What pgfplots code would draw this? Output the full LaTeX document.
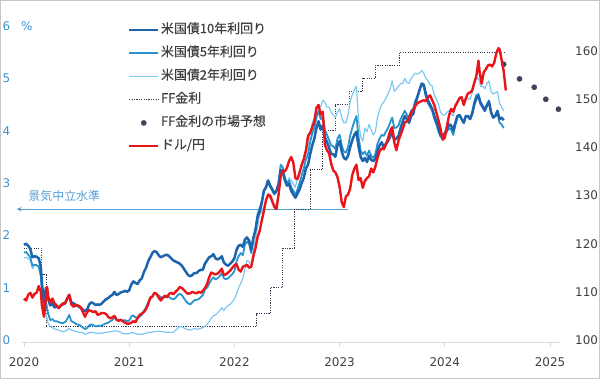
\documentclass[border=0pt]{standalone}
\usepackage{pgfplots}
\pgfplotsset{compat=1.18}
\usepackage{pgfplotstable}
\usetikzlibrary{arrows.meta}
\usepackage{fontspec}
\setmainfont{DejaVu Sans}
\newfontfamily\jp{Noto Sans CJK JP}
\newfontfamily\jpb[FakeBold=0.35]{Noto Sans CJK JP}

\definecolor{c10}{RGB}{28,100,172}
\definecolor{c5}{RGB}{40,148,205}
\definecolor{c2}{RGB}{125,200,240}
\definecolor{cred}{RGB}{235,20,25}
\definecolor{cff}{RGB}{55,55,80}
\definecolor{cdot}{RGB}{65,65,90}
\definecolor{cleft}{RGB}{60,145,205}
\definecolor{cneutral}{RGB}{85,160,215}
\definecolor{ctext}{RGB}{64,64,64}
\definecolor{caxis}{RGB}{217,217,217}

\pgfplotstableread{
x y
2020.00 1.82
2020.02 1.84
2020.04 1.80
2020.06 1.74
2020.08 1.58
2020.10 1.60
2020.12 1.59
2020.14 1.56
2020.16 1.40
2020.17 1.10
2020.19 0.72
2020.20 0.90
2020.21 1.00
2020.23 0.78
2020.25 0.66
2020.27 0.70
2020.29 0.62
2020.31 0.64
2020.33 0.62
2020.35 0.66
2020.37 0.68
2020.39 0.70
2020.41 0.78
2020.43 0.86
2020.45 0.72
2020.47 0.70
2020.50 0.66
2020.52 0.64
2020.54 0.61
2020.56 0.58
2020.58 0.55
2020.60 0.58
2020.62 0.68
2020.64 0.72
2020.66 0.70
2020.68 0.67
2020.70 0.68
2020.72 0.67
2020.74 0.70
2020.76 0.74
2020.78 0.78
2020.80 0.80
2020.82 0.84
2020.84 0.86
2020.86 0.92
2020.88 0.86
2020.90 0.88
2020.92 0.91
2020.94 0.92
2020.96 0.94
2020.98 0.92
2021.00 0.95
2021.02 1.06
2021.04 1.12
2021.06 1.09
2021.08 1.07
2021.10 1.14
2021.12 1.18
2021.14 1.30
2021.16 1.38
2021.18 1.50
2021.20 1.58
2021.22 1.66
2021.24 1.70
2021.26 1.68
2021.28 1.62
2021.30 1.58
2021.32 1.60
2021.34 1.62
2021.36 1.63
2021.38 1.60
2021.40 1.56
2021.42 1.52
2021.44 1.50
2021.46 1.48
2021.48 1.46
2021.50 1.42
2021.52 1.36
2021.54 1.30
2021.56 1.24
2021.58 1.22
2021.60 1.24
2021.62 1.28
2021.64 1.28
2021.66 1.32
2021.68 1.34
2021.70 1.34
2021.72 1.46
2021.74 1.52
2021.76 1.58
2021.78 1.60
2021.80 1.64
2021.82 1.56
2021.84 1.54
2021.86 1.56
2021.88 1.60
2021.90 1.48
2021.92 1.44
2021.94 1.42
2021.96 1.46
2021.98 1.50
2022.00 1.56
2022.02 1.72
2022.04 1.80
2022.06 1.82
2022.08 1.78
2022.10 1.92
2022.12 1.96
2022.14 1.90
2022.16 1.72
2022.18 1.95
2022.20 2.10
2022.22 2.35
2022.24 2.45
2022.26 2.62
2022.28 2.85
2022.30 2.92
2022.32 3.05
2022.34 2.95
2022.36 2.88
2022.38 2.80
2022.40 2.85
2022.42 2.98
2022.44 3.25
2022.46 3.22
2022.48 3.05
2022.50 2.95
2022.52 2.98
2022.54 2.85
2022.56 2.78
2022.58 2.72
2022.60 2.80
2022.62 2.88
2022.64 3.00
2022.66 3.10
2022.68 3.28
2022.70 3.35
2022.72 3.55
2022.74 3.72
2022.76 3.85
2022.78 4.05
2022.80 4.18
2022.82 4.02
2022.84 4.10
2022.86 3.88
2022.88 3.78
2022.90 3.68
2022.92 3.55
2022.94 3.55
2022.96 3.50
2022.98 3.72
2023.00 3.80
2023.02 3.60
2023.04 3.48
2023.06 3.45
2023.08 3.52
2023.10 3.68
2023.12 3.82
2023.14 3.92
2023.16 3.98
2023.18 3.70
2023.20 3.50
2023.22 3.42
2023.24 3.48
2023.26 3.40
2023.28 3.52
2023.30 3.44
2023.32 3.42
2023.34 3.46
2023.36 3.62
2023.38 3.72
2023.40 3.78
2023.42 3.68
2023.44 3.75
2023.46 3.80
2023.48 3.88
2023.50 3.98
2023.52 3.82
2023.54 3.85
2023.56 3.90
2023.58 4.05
2023.60 4.18
2023.62 4.28
2023.64 4.22
2023.66 4.15
2023.68 4.28
2023.70 4.32
2023.72 4.50
2023.74 4.65
2023.76 4.78
2023.78 4.90
2023.80 4.88
2023.82 4.70
2023.84 4.58
2023.86 4.50
2023.88 4.42
2023.90 4.28
2023.92 4.18
2023.94 4.05
2023.96 3.92
2023.98 3.88
2024.00 3.95
2024.02 4.02
2024.04 4.12
2024.06 4.10
2024.08 4.00
2024.10 4.15
2024.12 4.28
2024.14 4.30
2024.16 4.22
2024.18 4.15
2024.20 4.28
2024.22 4.28
2024.24 4.22
2024.26 4.32
2024.28 4.50
2024.30 4.62
2024.32 4.66
2024.34 4.52
2024.36 4.45
2024.38 4.38
2024.40 4.48
2024.42 4.55
2024.44 4.35
2024.46 4.25
2024.48 4.28
2024.50 4.38
2024.52 4.22
2024.54 4.25
2024.56 4.20
}\tenY

\pgfplotstableread{
x y
2020.00 1.67
2020.02 1.68
2020.04 1.63
2020.06 1.58
2020.08 1.42
2020.10 1.44
2020.12 1.43
2020.14 1.40
2020.16 1.22
2020.17 0.90
2020.19 0.55
2020.20 0.70
2020.21 0.72
2020.23 0.50
2020.25 0.38
2020.27 0.40
2020.29 0.36
2020.31 0.36
2020.33 0.34
2020.35 0.33
2020.37 0.32
2020.39 0.34
2020.41 0.40
2020.43 0.48
2020.45 0.36
2020.47 0.34
2020.50 0.30
2020.52 0.29
2020.54 0.27
2020.56 0.24
2020.58 0.21
2020.60 0.23
2020.62 0.28
2020.64 0.30
2020.66 0.28
2020.68 0.26
2020.70 0.27
2020.72 0.27
2020.74 0.28
2020.76 0.30
2020.78 0.32
2020.80 0.33
2020.82 0.36
2020.84 0.38
2020.86 0.44
2020.88 0.38
2020.90 0.38
2020.92 0.38
2020.94 0.37
2020.96 0.38
2020.98 0.36
2021.00 0.37
2021.02 0.45
2021.04 0.47
2021.06 0.43
2021.08 0.42
2021.10 0.45
2021.12 0.48
2021.14 0.56
2021.16 0.62
2021.18 0.72
2021.20 0.78
2021.22 0.84
2021.24 0.90
2021.26 0.88
2021.28 0.85
2021.30 0.82
2021.32 0.80
2021.34 0.82
2021.36 0.84
2021.38 0.82
2021.40 0.79
2021.42 0.78
2021.44 0.80
2021.46 0.86
2021.48 0.88
2021.50 0.86
2021.52 0.80
2021.54 0.74
2021.56 0.70
2021.58 0.68
2021.60 0.72
2021.62 0.76
2021.64 0.77
2021.66 0.78
2021.68 0.82
2021.70 0.86
2021.72 0.96
2021.74 1.00
2021.76 1.08
2021.78 1.15
2021.80 1.20
2021.82 1.16
2021.84 1.18
2021.86 1.22
2021.88 1.28
2021.90 1.18
2021.92 1.16
2021.94 1.18
2021.96 1.22
2021.98 1.26
2022.00 1.32
2022.02 1.50
2022.04 1.60
2022.06 1.66
2022.08 1.62
2022.10 1.82
2022.12 1.88
2022.14 1.84
2022.16 1.66
2022.18 1.95
2022.20 2.12
2022.22 2.40
2022.24 2.52
2022.26 2.65
2022.28 2.85
2022.30 2.90
2022.32 3.02
2022.34 2.92
2022.36 2.86
2022.38 2.78
2022.40 2.85
2022.42 3.00
2022.44 3.35
2022.46 3.30
2022.48 3.10
2022.50 3.00
2022.52 3.05
2022.54 2.92
2022.56 2.85
2022.58 2.78
2022.60 2.88
2022.62 3.00
2022.64 3.15
2022.66 3.28
2022.68 3.45
2022.70 3.55
2022.72 3.78
2022.74 3.95
2022.76 4.05
2022.78 4.25
2022.80 4.38
2022.82 4.22
2022.84 4.28
2022.86 4.02
2022.88 3.92
2022.90 3.82
2022.92 3.72
2022.94 3.70
2022.96 3.65
2022.98 3.85
2023.00 3.92
2023.02 3.72
2023.04 3.60
2023.06 3.58
2023.08 3.68
2023.10 3.90
2023.12 4.05
2023.14 4.18
2023.16 4.28
2023.18 3.88
2023.20 3.62
2023.22 3.55
2023.24 3.60
2023.26 3.52
2023.28 3.62
2023.30 3.52
2023.32 3.48
2023.34 3.55
2023.36 3.75
2023.38 3.85
2023.40 3.92
2023.42 3.90
2023.44 3.98
2023.46 4.05
2023.48 4.15
2023.50 4.25
2023.52 4.05
2023.54 4.06
2023.56 4.10
2023.58 4.22
2023.60 4.30
2023.62 4.38
2023.64 4.30
2023.66 4.25
2023.68 4.38
2023.70 4.42
2023.72 4.58
2023.74 4.65
2023.76 4.78
2023.78 4.88
2023.80 4.84
2023.82 4.65
2023.84 4.52
2023.86 4.45
2023.88 4.38
2023.90 4.22
2023.92 4.12
2023.94 3.98
2023.96 3.88
2023.98 3.85
2024.00 3.92
2024.02 3.98
2024.04 4.05
2024.06 4.02
2024.08 3.92
2024.10 4.10
2024.12 4.25
2024.14 4.30
2024.16 4.22
2024.18 4.15
2024.20 4.28
2024.22 4.28
2024.24 4.22
2024.26 4.35
2024.28 4.55
2024.30 4.68
2024.32 4.70
2024.34 4.55
2024.36 4.48
2024.38 4.42
2024.40 4.50
2024.42 4.58
2024.44 4.35
2024.46 4.25
2024.48 4.28
2024.50 4.35
2024.52 4.15
2024.54 4.12
2024.56 4.05
}\fiveY

\pgfplotstableread{
x y
2020.00 1.57
2020.02 1.58
2020.04 1.56
2020.06 1.52
2020.08 1.36
2020.10 1.42
2020.12 1.43
2020.14 1.41
2020.16 1.22
2020.17 0.90
2020.19 0.50
2020.20 0.55
2020.21 0.48
2020.23 0.32
2020.25 0.25
2020.27 0.24
2020.29 0.21
2020.31 0.20
2020.33 0.19
2020.35 0.17
2020.37 0.16
2020.39 0.17
2020.41 0.19
2020.43 0.22
2020.45 0.19
2020.47 0.18
2020.50 0.16
2020.52 0.15
2020.54 0.15
2020.56 0.14
2020.58 0.11
2020.60 0.12
2020.62 0.14
2020.64 0.15
2020.66 0.14
2020.68 0.13
2020.70 0.13
2020.72 0.13
2020.74 0.13
2020.76 0.14
2020.78 0.15
2020.80 0.15
2020.82 0.16
2020.84 0.16
2020.86 0.18
2020.88 0.17
2020.90 0.16
2020.92 0.15
2020.94 0.12
2020.96 0.12
2020.98 0.12
2021.00 0.12
2021.02 0.14
2021.04 0.14
2021.06 0.12
2021.08 0.11
2021.10 0.11
2021.12 0.11
2021.14 0.12
2021.16 0.13
2021.18 0.14
2021.20 0.15
2021.22 0.15
2021.24 0.16
2021.26 0.16
2021.28 0.17
2021.30 0.16
2021.32 0.16
2021.34 0.15
2021.36 0.15
2021.38 0.15
2021.40 0.14
2021.42 0.15
2021.44 0.18
2021.46 0.22
2021.48 0.26
2021.50 0.25
2021.52 0.23
2021.54 0.21
2021.56 0.20
2021.58 0.19
2021.60 0.20
2021.62 0.22
2021.64 0.21
2021.66 0.21
2021.68 0.22
2021.70 0.24
2021.72 0.26
2021.74 0.30
2021.76 0.35
2021.78 0.42
2021.80 0.46
2021.82 0.48
2021.84 0.52
2021.86 0.56
2021.88 0.62
2021.90 0.56
2021.92 0.62
2021.94 0.66
2021.96 0.68
2021.98 0.73
2022.00 0.78
2022.02 0.88
2022.04 1.00
2022.06 1.08
2022.08 1.18
2022.10 1.35
2022.12 1.52
2022.14 1.50
2022.16 1.38
2022.18 1.70
2022.20 1.95
2022.22 2.15
2022.24 2.40
2022.26 2.45
2022.28 2.55
2022.30 2.65
2022.32 2.75
2022.34 2.70
2022.36 2.62
2022.38 2.55
2022.40 2.62
2022.42 2.80
2022.44 3.20
2022.46 3.15
2022.48 3.05
2022.50 2.95
2022.52 3.10
2022.54 3.05
2022.56 2.98
2022.58 2.92
2022.60 3.10
2022.62 3.25
2022.64 3.30
2022.66 3.42
2022.68 3.55
2022.70 3.72
2022.72 3.95
2022.74 4.15
2022.76 4.25
2022.78 4.42
2022.80 4.50
2022.82 4.45
2022.84 4.58
2022.86 4.55
2022.88 4.45
2022.90 4.45
2022.92 4.35
2022.94 4.30
2022.96 4.25
2022.98 4.35
2023.00 4.42
2023.02 4.25
2023.04 4.15
2023.06 4.15
2023.08 4.30
2023.10 4.55
2023.12 4.68
2023.14 4.78
2023.16 4.85
2023.18 4.20
2023.20 3.88
2023.22 3.80
2023.24 4.05
2023.26 3.98
2023.28 4.12
2023.30 4.02
2023.32 3.92
2023.34 3.98
2023.36 4.25
2023.38 4.40
2023.40 4.50
2023.42 4.55
2023.44 4.62
2023.46 4.70
2023.48 4.80
2023.50 4.95
2023.52 4.75
2023.54 4.80
2023.56 4.85
2023.58 4.90
2023.60 4.90
2023.62 5.00
2023.64 4.92
2023.66 4.90
2023.68 5.00
2023.70 5.05
2023.72 5.10
2023.74 5.08
2023.76 5.10
2023.78 5.15
2023.80 5.10
2023.82 5.00
2023.84 4.95
2023.86 4.88
2023.88 4.85
2023.90 4.68
2023.92 4.60
2023.94 4.50
2023.96 4.35
2023.98 4.30
2024.00 4.30
2024.02 4.35
2024.04 4.38
2024.06 4.32
2024.08 4.28
2024.10 4.45
2024.12 4.55
2024.14 4.65
2024.16 4.62
2024.18 4.55
2024.20 4.62
2024.22 4.62
2024.24 4.60
2024.26 4.72
2024.28 4.92
2024.30 5.00
2024.32 5.00
2024.34 4.85
2024.36 4.85
2024.38 4.80
2024.40 4.90
2024.42 4.95
2024.44 4.75
2024.46 4.70
2024.48 4.72
2024.50 4.75
2024.52 4.52
2024.54 4.45
2024.56 4.38
}\twoY

\pgfplotstableread{
x y
2020.00 1.75
2020.17 1.25
2020.21 0.25
2022.21 0.50
2022.34 1.00
2022.46 1.75
2022.57 2.50
2022.72 3.25
2022.84 4.00
2022.96 4.50
2023.09 4.75
2023.22 5.00
2023.34 5.25
2023.57 5.50
2024.56 5.50
}\ff

\pgfplotstableread{
x y
2024.56 5.27
2024.71 4.99
2024.85 4.83
2024.96 4.60
2025.08 4.41
}\ffexp

\pgfplotstableread{
x y
2020.00 108.6
2020.02 108.2
2020.04 109.4
2020.06 109.8
2020.08 108.8
2020.10 109.6
2020.12 109.8
2020.14 111.2
2020.16 110.0
2020.17 107.2
2020.19 104.8
2020.20 107.0
2020.22 111.0
2020.23 109.0
2020.25 107.8
2020.27 108.6
2020.29 107.6
2020.31 107.2
2020.33 106.6
2020.35 107.2
2020.37 107.6
2020.39 107.6
2020.41 108.6
2020.43 109.4
2020.45 107.4
2020.47 106.9
2020.50 107.3
2020.52 107.1
2020.54 106.8
2020.56 105.8
2020.58 104.8
2020.60 105.8
2020.62 106.2
2020.64 106.0
2020.66 105.8
2020.68 106.0
2020.70 105.2
2020.72 105.4
2020.74 105.6
2020.76 105.6
2020.78 105.4
2020.80 104.8
2020.82 104.5
2020.84 104.7
2020.86 105.0
2020.88 104.2
2020.90 104.0
2020.92 104.2
2020.94 103.9
2020.96 103.6
2020.98 103.4
2021.00 103.4
2021.02 103.6
2021.04 103.9
2021.06 103.7
2021.08 104.6
2021.10 105.2
2021.12 105.5
2021.14 105.8
2021.16 106.4
2021.18 107.4
2021.20 108.8
2021.22 109.0
2021.24 109.8
2021.26 109.6
2021.28 108.8
2021.30 108.2
2021.32 108.8
2021.34 109.2
2021.36 108.9
2021.38 109.6
2021.40 109.8
2021.42 109.5
2021.44 110.0
2021.46 110.4
2021.48 111.0
2021.50 110.8
2021.52 110.4
2021.54 109.9
2021.56 109.6
2021.58 109.7
2021.60 110.0
2021.62 109.8
2021.64 109.7
2021.66 110.0
2021.68 109.8
2021.70 110.2
2021.72 110.8
2021.74 111.6
2021.76 113.0
2021.78 114.0
2021.80 113.8
2021.82 113.6
2021.84 113.8
2021.86 114.2
2021.88 114.8
2021.90 113.5
2021.92 113.6
2021.94 114.0
2021.96 114.4
2021.98 115.0
2022.00 115.5
2022.02 115.8
2022.04 114.6
2022.06 114.2
2022.08 115.2
2022.10 115.4
2022.12 115.6
2022.14 115.0
2022.16 115.2
2022.18 117.4
2022.20 119.0
2022.22 121.4
2022.24 122.6
2022.26 124.8
2022.28 126.8
2022.30 129.0
2022.32 130.2
2022.34 130.0
2022.36 128.8
2022.38 127.6
2022.40 127.2
2022.42 130.2
2022.44 134.0
2022.46 135.2
2022.48 135.0
2022.50 135.8
2022.52 137.2
2022.54 138.0
2022.56 136.8
2022.58 133.6
2022.60 133.4
2022.62 134.8
2022.64 136.4
2022.66 137.6
2022.68 139.4
2022.70 142.4
2022.72 143.0
2022.74 144.2
2022.76 145.4
2022.78 148.2
2022.80 148.8
2022.82 146.8
2022.84 147.4
2022.86 140.6
2022.88 139.4
2022.90 138.8
2022.92 136.6
2022.94 135.2
2022.96 134.8
2022.98 133.8
2023.00 131.8
2023.02 128.6
2023.04 127.6
2023.06 129.8
2023.08 130.2
2023.10 131.4
2023.12 134.2
2023.14 135.6
2023.16 136.4
2023.18 133.2
2023.20 133.6
2023.22 131.6
2023.24 133.0
2023.26 133.6
2023.28 134.0
2023.30 135.6
2023.32 134.8
2023.34 136.0
2023.36 137.8
2023.38 139.2
2023.40 139.8
2023.42 139.6
2023.44 140.6
2023.46 141.8
2023.48 143.4
2023.50 144.2
2023.52 141.0
2023.54 139.4
2023.56 141.4
2023.58 142.6
2023.60 143.8
2023.62 145.2
2023.64 145.4
2023.66 146.2
2023.68 147.2
2023.70 147.8
2023.72 148.6
2023.74 149.2
2023.76 149.4
2023.78 149.6
2023.80 149.8
2023.82 149.6
2023.84 150.4
2023.86 150.8
2023.88 149.8
2023.90 148.8
2023.92 147.2
2023.94 145.6
2023.96 143.8
2023.98 141.6
2024.00 142.0
2024.02 144.4
2024.04 146.6
2024.06 148.0
2024.08 147.4
2024.10 148.6
2024.12 149.4
2024.14 150.2
2024.16 150.4
2024.18 148.8
2024.20 150.2
2024.22 151.2
2024.24 151.4
2024.26 151.8
2024.28 153.4
2024.30 154.8
2024.32 158.0
2024.33 155.8
2024.35 153.2
2024.37 155.6
2024.39 156.2
2024.41 157.0
2024.43 157.2
2024.45 156.8
2024.47 157.6
2024.49 159.6
2024.51 160.6
2024.52 160.4
2024.54 158.2
2024.56 155.8
2024.58 151.8
}\usdjpy

\begin{document}
\begin{tikzpicture}
\useasboundingbox (0,0) rectangle (600bp,379bp);
\draw[black!22, line width=1bp] (0.5bp,0.5bp) rectangle (599.5bp,378.5bp);
\begin{axis}[
  at={(22bp,39bp)}, anchor=south west,
  scale only axis, width=538bp, height=314bp,
  xmin=2019.981, xmax=2025.095, ymin=0, ymax=6,
  clip=false,
  axis x line*=bottom, axis y line*=left,
  x axis line style={draw=caxis, line width=0.8bp, -, yshift=-2.5bp},
  y axis line style={draw=none},
  xtick={2020,2021,2022,2023,2024,2025},
  xticklabels={2020,2021,2022,2023,2024,2025},
  xtick style={draw=caxis, line width=0.8bp, yshift=-2.5bp},
  tick align=outside, major tick length=4bp,
  ytick={0,1,2,3,4,5,6}, ytick style={draw=none},
  xticklabel style={font=\fontsize{12}{14}\selectfont, text=ctext, inner sep=0pt, anchor=north, yshift=-13bp},
  yticklabel style={font=\fontsize{12}{14}\selectfont, text=cleft, inner sep=0pt, anchor=east, xshift=-7.5bp},
  /pgf/number format/assume math mode=true,
  legend style={at={(rel axis cs:0.197,1.006)}, anchor=north west, draw=none, fill=none,
    font=\jpb\fontsize{13}{15}\selectfont, text=ctext, inner sep=0pt, outer sep=0pt,
    row sep=11.2bp, column sep=1.5bp,
    nodes={inner sep=0pt, text height=9bp, text depth=3bp}},
  legend cell align=left,
  legend image code/.code={\draw[#1] (0bp,0bp) -- (29bp,0bp);},
]
\addplot[cneutral, line width=0.8bp, -{Stealth[length=5bp,width=4.5bp]}, forget plot]
  coordinates {(2023.08,2.5) (2019.93,2.5)};
\node[anchor=west, inner sep=0pt, text=cneutral, font=\jp\fontsize{12}{14}\selectfont]
  at (axis cs:2020.04,2.76) {景気中立水準};
\node[anchor=west, inner sep=0pt, text=cleft, font=\fontsize{12}{14}\selectfont]
  at (rel axis cs:-0.002,1.0) {\%};
\addplot[cff, line width=1.1bp, dash pattern=on 1.1bp off 1.3bp, const plot, forget plot] table {\ff};
\addplot[c2, line width=1.2bp, line join=round, forget plot] table {\twoY};
\addplot[c5, line width=1.8bp, line join=round, forget plot] table {\fiveY};
\addplot[c10, line width=2.5bp, line join=round, forget plot] table {\tenY};
\addplot[only marks, mark=*, mark size=2.6bp, cdot, forget plot] table {\ffexp};
\addlegendimage{c10, line width=2.5bp}
\addlegendentry{米国債10年利回り}
\addlegendimage{c5, line width=1.8bp}
\addlegendentry{米国債5年利回り}
\addlegendimage{c2, line width=1.2bp}
\addlegendentry{米国債2年利回り}
\addlegendimage{cff, line width=1.1bp, dash pattern=on 1.1bp off 1.3bp}
\addlegendentry{FF金利}
\addlegendimage{legend image code/.code={\fill[cdot] (14.5bp,0bp) circle (2.6bp);}}
\addlegendentry{FF金利の市場予想}
\addlegendimage{cred, line width=2.5bp}
\addlegendentry{ドル/円}
\end{axis}
\begin{axis}[
  at={(22bp,39bp)}, anchor=south west,
  scale only axis, width=538bp, height=314bp,
  xmin=2019.981, xmax=2025.095, ymin=100, ymax=165.2,
  axis x line=none, axis y line*=right,
  y axis line style={draw=none},
  ytick={100,110,120,130,140,150,160}, ytick style={draw=none},
  yticklabel style={font=\fontsize{12}{14}\selectfont, text=ctext, inner sep=0pt, anchor=west, xshift=15bp},
  /pgf/number format/assume math mode=true,
]
\addplot[cred, line width=2.4bp, line join=round] table {\usdjpy};
\end{axis}
\end{tikzpicture}
\end{document}
